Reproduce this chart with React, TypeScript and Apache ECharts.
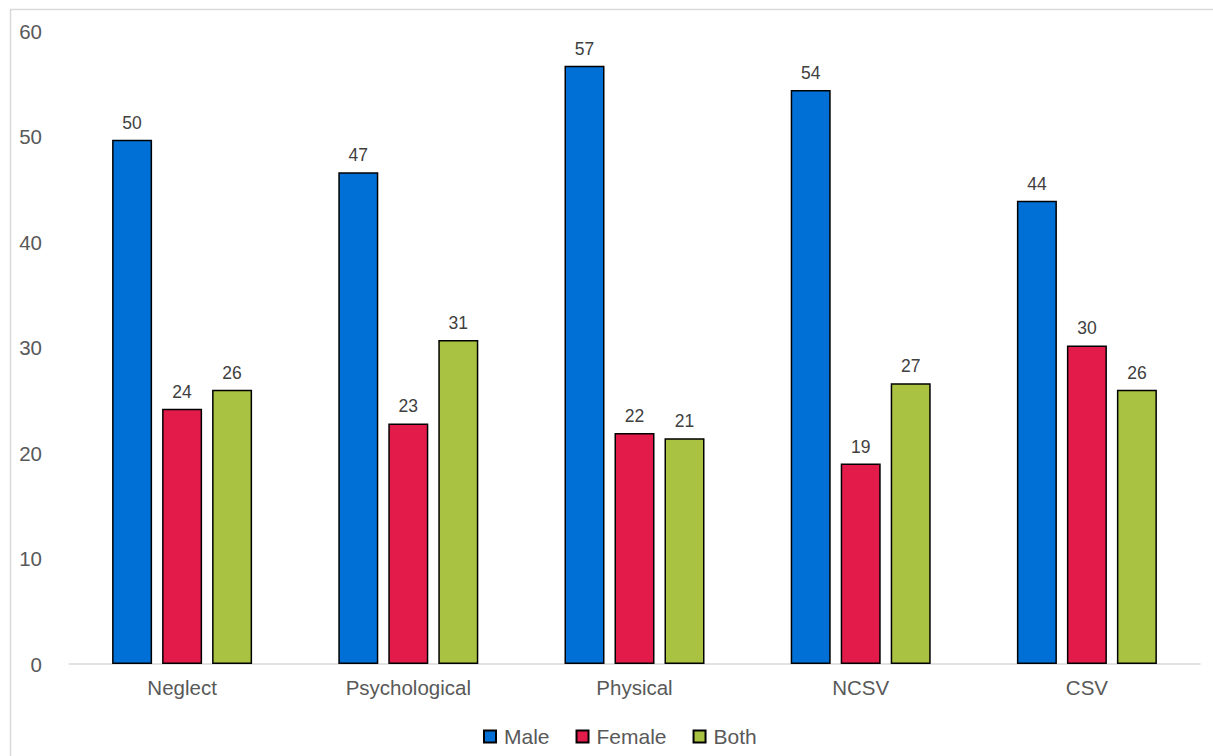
import React, { useEffect, useRef } from "react";
import * as echarts from "echarts";

const categories = ["Neglect", "Psychological", "Physical", "NCSV", "CSV"];
const maleValues = [49.7, 46.6, 56.7, 54.4, 43.9];
const femaleValues = [24.2, 22.8, 21.9, 19.0, 30.2];
const bothValues = [26.0, 30.7, 21.4, 26.6, 26.0];
const seriesNames = ["Male", "Female", "Both"];
const seriesColors = ["#0070D6", "#E31B4B", "#A9C242"];

export default function App() {
  const ref = useRef<HTMLDivElement>(null);
  useEffect(() => {
    if (!ref.current) return;
    const chart = echarts.init(ref.current, undefined, { renderer: "svg" });
    const values = [maleValues, femaleValues, bothValues];
    chart.setOption({
      animation: false,
      backgroundColor: "#ffffff",
      textStyle: { fontFamily: "Liberation Sans, Arial, sans-serif" },
      graphic: [
        { type: "line", shape: { x1: 10, y1: 9.5, x2: 1213, y2: 9.5 }, style: { stroke: "#d9d9d9", lineWidth: 1.5 } },
        { type: "line", shape: { x1: 10.5, y1: 9, x2: 10.5, y2: 756 }, style: { stroke: "#d9d9d9", lineWidth: 1.5 } },
      ],
      grid: { left: 69, right: 13, top: 31, bottom: 92, containLabel: false },
      legend: {
        data: seriesNames,
        top: 721,
        left: 478,
        itemWidth: 12,
        itemHeight: 12,
        itemGap: 26,
        icon: "rect",
        textStyle: { color: "#595959", fontSize: 21, padding: [0, 0, 0, 3] },
      },
      xAxis: {
        type: "category",
        data: categories,
        axisLine: { lineStyle: { color: "#d9d9d9", width: 1.5 } },
        axisTick: { show: false },
        axisLabel: { color: "#595959", fontSize: 20.5, margin: 13 },
      },
      yAxis: {
        type: "value",
        min: 0,
        max: 60,
        interval: 10,
        splitLine: { show: false },
        axisLine: { show: false },
        axisTick: { show: false },
        axisLabel: { color: "#595959", fontSize: 20.5, margin: 27 },
      },
      series: seriesNames.map((name, i) => ({
        name,
        type: "bar",
        data: values[i],
        barWidth: 40,
        barGap: "25%",
        itemStyle: { color: seriesColors[i], borderColor: "#000000", borderWidth: 1.5 },
        label: {
          show: true,
          position: "top",
          distance: 8,
          color: "#404040",
          fontSize: 17.5,
          formatter: (p: any) => Math.round(p.value).toString(),
        },
      })),
    });
    return () => chart.dispose();
  }, []);
  return (
    <div
      ref={ref}
      style={{ position: "absolute", left: 0, top: 0, width: 1213, height: 756 }}
    />
  );
}
